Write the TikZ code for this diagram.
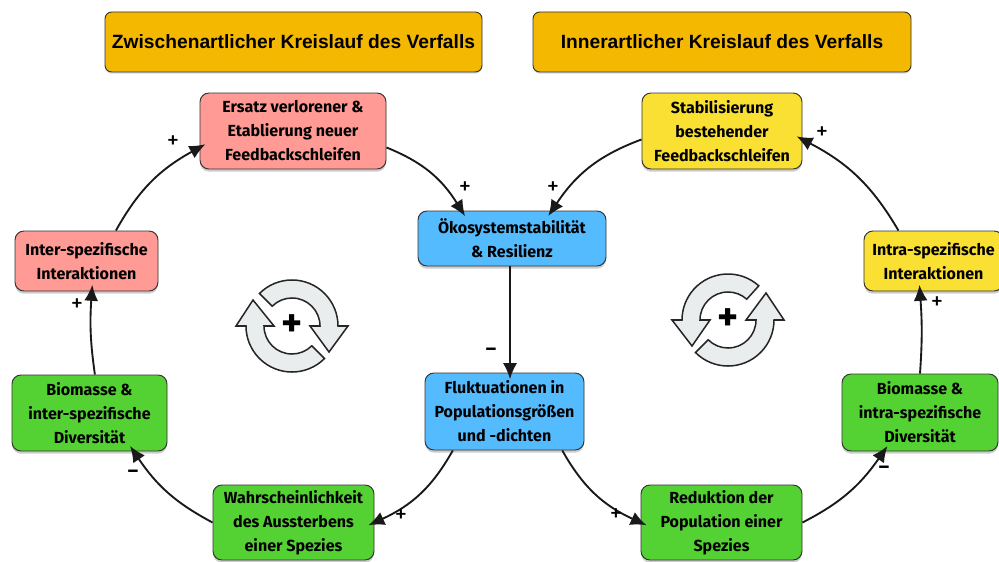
\documentclass[tikz,border=0pt]{standalone}
\usepackage{fontspec}
\setmainfont{Fira Sans}
\newfontfamily\titlefont{Liberation Sans}
\usetikzlibrary{arrows.meta,shadows}
\definecolor{titleorange}{HTML}{F5B800}
\definecolor{boxpink}{HTML}{FF9A94}
\definecolor{boxyellow}{HTML}{FAE032}
\definecolor{boxblue}{HTML}{55BBFF}
\definecolor{boxgreen}{HTML}{55D233}
\definecolor{cyclegrey}{HTML}{E9EDEE}
\tikzset{
	titlebox/.style={rectangle, draw=black!80, thick, fill=titleorange, rounded corners=.2cm, inner sep=0pt, minimum height=1.8cm, font=\titlefont\bfseries\fontsize{16.4}{20}\selectfont,
		drop shadow={shadow xshift=0pt, shadow yshift=-.05cm, opacity=.3}},
	statebox/.style={rectangle, draw=black!80, thick, rounded corners=.27cm, inner sep=0pt, align=center, font=\bfseries\fontsize{13.7}{20.5}\selectfont,
		drop shadow={shadow xshift=0pt, shadow yshift=-.08cm, opacity=.4}},
	threeline/.style={statebox, execute at begin node={\rule{0pt}{14.5pt}}},
	arc/.style={-{Latex[length=.48cm,width=.42cm]}, line width=1.6pt, black!90, shorten >=-.2cm},
	sign/.style={inner sep=0pt, font=\fontsize{21}{21}\selectfont},
	minus/.style={inner sep=0pt, font=\bfseries\fontsize{17}{17}\selectfont},
	cycle/.style={draw=black!85, line width=1.3pt, fill=cyclegrey, line join=miter},
	cycleplus/.style={inner sep=0pt, font=\bfseries\fontsize{34}{34}\selectfont},
}
\begin{document}
\begin{tikzpicture}

	\useasboundingbox (0,0) rectangle (29.97,-16.83);

	\node 	(t1)		at	(8.805,-1.26) 	[titlebox, minimum width=11.31cm]{Zwischenartlicher Kreislauf des Verfalls};
	\node 	(t2)		at	(21.66,-1.26) 	[titlebox, minimum width=11.34cm]{Innerartlicher Kreislauf des Verfalls};

	\node 	(ersatz)	at	(8.79,-3.93) 	[threeline, fill=boxpink, minimum width=5.58cm, minimum height=2.28cm]{Ersatz verlorener \&\\Etablierung neuer\\Feedbackschleifen};
	\node 	(stabil)	at	(21.66,-3.93) 	[threeline, fill=boxyellow, minimum width=4.8cm, minimum height=2.28cm]{Stabilisierung\\bestehender\\Feedbackschleifen};
	\node 	(oeko)		at	(15.36,-7.155) 	[statebox, fill=boxblue, minimum width=5.64cm, minimum height=1.65cm]{Ökosystemstabilität\\\& Resilienz};
	\node 	(fluk)		at	(15.135,-12.345) [threeline, fill=boxblue, minimum width=4.77cm, minimum height=2.31cm]{Fluktuationen in\\Populationsgrößen\\und -dichten};
	\node 	(inter)		at	(2.595,-7.83) 	[statebox, fill=boxpink, minimum width=4.29cm, minimum height=1.8cm]{Inter-spezifische\\Interaktionen};
	\node 	(intra)		at	(28.005,-7.83) 	[statebox, fill=boxyellow, minimum width=4.17cm, minimum height=1.8cm]{Intra-spezifische\\Interaktionen};
	\node 	(biol)		at	(2.685,-12.39) 	[threeline, fill=boxgreen, minimum width=4.65cm, minimum height=2.28cm]{Biomasse \&\\inter-spezifische\\Diversität};
	\node 	(bior)		at	(27.6,-12.375) 	[threeline, fill=boxgreen, minimum width=4.68cm, minimum height=2.31cm]{Biomasse \&\\intra-spezifische\\Diversität};
	\node 	(wahr)		at	(8.805,-15.675) [threeline, fill=boxgreen, minimum width=4.83cm, minimum height=2.25cm]{Wahrscheinlichkeit\\des Aussterbens\\einer Spezies};
	\node 	(redu)		at	(21.645,-15.675) [threeline, fill=boxgreen, minimum width=4.83cm, minimum height=2.25cm]{Reduktion der\\Population einer\\Spezies};

	\draw[arc]			(oeko.south -| 15.3,0)	to	(fluk.north -| 15.3,0);

	\draw[arc,bend left=18]		(fluk.-143)	to	(wahr.east);
	\draw[arc,bend left=14]		(wahr.west)	to	(biol.-41);
	\draw[arc,bend left=6]		(biol.82)	to	(inter.-80);
	\draw[arc,bend left=16]		(inter.46)	to	(ersatz.-170);
	\draw[arc,bend left=18]		(ersatz.-10)	to	(oeko.151);

	\draw[arc,bend right=18]	(stabil.-174)	to	(oeko.35);
	\draw[arc,bend right=18]	(fluk.-34)	to	(redu.west);
	\draw[arc,bend right=14]	(redu.east)	to	(bior.-133);
	\draw[arc,bend right=4]		(bior.north)	to	(intra.-114);
	\draw[arc,bend right=16]	(intra.139)	to	(stabil.-6);

	\node 	(s1)	at	(14.73,-10.56)	[minus]{--};
	\node 	(s2)	at	(12.03,-15.48)	[sign]{+};
	\node 	(s3)	at	(3.99,-14.22)	[minus]{--};
	\node 	(s4)	at	(2.31,-9.15)	[sign]{+};
	\node 	(s5)	at	(5.19,-4.26)	[sign]{+};
	\node 	(s6)	at	(13.95,-5.64)	[sign]{+};
	\node 	(s7)	at	(16.59,-5.64)	[sign]{+};
	\node 	(s8)	at	(18.48,-15.45)	[sign]{+};
	\node 	(s9)	at	(26.52,-14.1)	[minus]{--};
	\node 	(s10)	at	(28.11,-9.09)	[sign]{+};
	\node 	(s11)	at	(24.66,-3.99)	[sign]{+};

	% left cycle
	\draw[cycle]	(8.76,-9.78) ++(135:1.38) arc (135:0:1.38) -- ++(.3,0) -- (9.87,-10.56) -- (9.3,-9.78) -- ++(.3,0) arc (0:135:.84) -- cycle;
	\draw[cycle]	(8.76,-9.78) ++(-45:1.38) arc (-45:-180:1.38) -- ++(-.3,0) -- (7.59,-9.0) -- (8.22,-9.78) -- ++(-.3,0) arc (-180:-45:.84) -- cycle;
	\node 	(c1)	at	(8.76,-9.78)	[cycleplus]{+};

	% right cycle
	\draw[cycle]	(21.84,-9.6) ++(48:1.38) arc (48:180:1.38) -- ++(-.3,0) -- (20.76,-10.38) -- (21.3,-9.6) -- ++(-.3,0) arc (180:48:.84) -- cycle;
	\draw[cycle]	(21.84,-9.6) ++(-135:1.38) arc (-135:0:1.38) -- ++(.3,0) -- (22.98,-8.79) -- (22.38,-9.6) -- ++(.3,0) arc (0:-135:.84) -- cycle;
	\node 	(c2)	at	(21.84,-9.6)	[cycleplus]{+};

\end{tikzpicture}
\end{document}
